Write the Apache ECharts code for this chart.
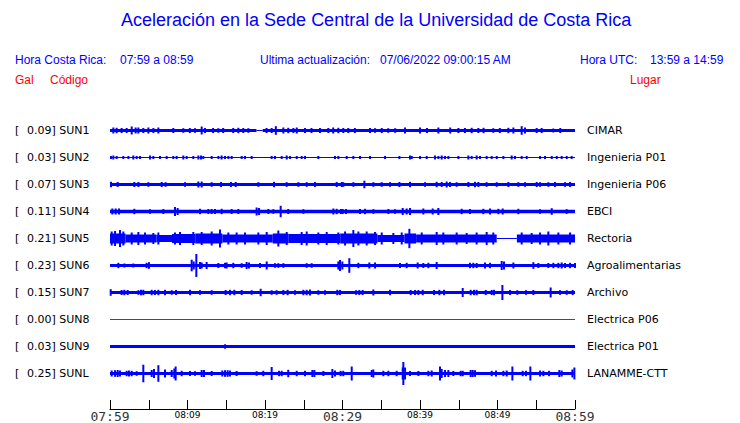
<!DOCTYPE html>
<html><head><meta charset="utf-8">
<script src="https://cdn.jsdelivr.net/npm/echarts@6.0.0/dist/echarts.min.js"></script>
<style>html,body{margin:0;padding:0;background:#fff}#c{width:740px;height:423px}</style>
</head><body><div id="c"></div>
<script>
// ---------- DATA ----------
const stations = ["SUN1","SUN2","SUN3","SUN4","SUN5","SUN6","SUN7","SUN8","SUN9","SUNL"];
const places = ["CIMAR","Ingenieria P01","Ingenieria P06","EBCI","Rectoria","Agroalimentarias","Archivo","Electrica P06","Electrica P01","LANAMME-CTT"];
const peaks = [0.09,0.03,0.07,0.11,0.21,0.23,0.15,0.00,0.03,0.25];
const tickLabels = ["07:59","08:09","08:19","08:29","08:39","08:49","08:59"];

// noise band per trace: [startMin, endMin, halfAmplitude (Gal)]
const sun1Noise = [[0,18.9,0.03],[18.9,19.7,0.01],[19.7,60,0.03]];
const sun2Noise = [[0,60,0.01]];
const sun3Noise = [[0,60,0.03]];
const sun4Noise = [[0,60,0.035]];
const sun5Noise = [[0,2,0.10],[2,6,0.08],[6,8,0.07],[8,11,0.09],[11,14.5,0.10],[14.5,21,0.08],[21,23,0.10],[23,29.7,0.09],[29.7,34.5,0.10],[34.5,38,0.07],[38,39.5,0.10],[39.5,49.9,0.08],[49.9,52.5,0.01],[52.5,60,0.08]];
const sun6Noise = [[0,60,0.03]];
const sun7Noise = [[0,60,0.03]];
const sun8Noise = [[0,60,0]];
const sun9Noise = [[0,60,0.03]];
const sunLNoise = [[0,60,0.03]];

// bursts per trace: [minute, halfAmplitude (Gal)]
const sun1Bursts = [[0.43,.06],[0.86,.054],[1.5,.05],[2.15,.05],[2.8,.08],[3.31,.06],[3.66,.06],[4.3,.05],[4.95,.06],[5.6,.05],[6.24,.06],[8.17,.05],[9.46,.046],[10.3,.05],[10.97,.046],[11.83,.08],[12.26,.05],[13.3,.05],[13.98,.046],[14.6,.05],[15.9,.05],[16.56,.054],[17.2,.05],[17.85,.046],[20.2,.05],[20.86,.05],[21.4,.086],[22.37,.06],[23.0,.054],[23.66,.05],[24.1,.06],[25.16,.05],[26.0,.05],[27.1,.05],[28.17,.05],[28.8,.06],[29.46,.054],[30.1,.05],[30.75,.05],[31.6,.05],[33.55,.05],[34.2,.046],[35.06,.05],[35.9,.046],[36.8,.046],[38.07,.06],[40.0,.06],[40.9,.05],[42.37,.06],[43.9,.06],[44.95,.05],[45.8,.05],[46.67,.054],[47.53,.05],[48.2,.054],[49.46,.046],[50.3,.05],[51.4,.054],[52.05,.06],[53.12,.086],[53.55,.06],[55.05,.05],[55.7,.05],[57.2,.04],[58.1,.05]];
const sun2Bursts = [[0.13,.03],[0.43,.04],[0.86,.03],[1.72,.03],[2.37,.03],[3.01,.04],[3.44,.03],[3.87,.03],[5.16,.04],[5.59,.03],[6.45,.03],[7.31,.03],[8.17,.03],[8.6,.03],[9.46,.04],[9.89,.03],[10.75,.03],[11.4,.04],[11.74,.04],[12.04,.03],[13.12,.03],[13.98,.03],[14.4,.04],[14.84,.03],[15.27,.03],[15.7,.03],[16.99,.03],[17.42,.03],[18.28,.03],[20.86,.03],[21.29,.03],[22.15,.03],[22.8,.04],[23.23,.03],[24.09,.03],[24.73,.03],[25.16,.03],[26.88,.03],[29.03,.03],[29.46,.03],[30.54,.03],[31.4,.03],[32.26,.03],[33.55,.03],[35.49,.03],[37.34,.03],[38.71,.04],[38.93,.03],[40.0,.03],[40.86,.03],[41.94,.04],[42.37,.03],[42.8,.04],[43.23,.03],[43.66,.03],[44.95,.03],[46.24,.04],[46.67,.03],[47.31,.04],[47.74,.03],[48.6,.03],[49.25,.03],[49.9,.03],[50.76,.03],[51.83,.04],[52.26,.03],[53.12,.03],[53.77,.03],[55.49,.03],[56.13,.03],[57.0,.03],[57.64,.03],[58.28,.03],[58.93,.03],[59.57,.03]];
const sun3Bursts = [[0.13,.054],[0.99,.05],[3.14,.05],[3.66,.05],[4.95,.046],[6.67,.05],[7.18,.046],[9.68,.046],[11.4,.06],[11.83,.06],[13.12,.046],[14.32,.05],[15.61,.05],[16.22,.05],[19.14,.046],[21.16,.054],[22.8,.046],[24.3,.046],[25.38,.046],[26.45,.05],[29.25,.05],[29.9,.05],[30.1,.046],[31.4,.046],[32.82,.076],[33.98,.046],[35.06,.046],[36.13,.046],[37.34,.05],[38.71,.054],[40.65,.046],[42.15,.054],[42.8,.05],[43.44,.06],[43.87,.05],[44.73,.046],[46.24,.05],[47.1,.054],[47.53,.05],[48.6,.046],[49.9,.046],[51.4,.05],[52.69,.046],[53.55,.046],[55.06,.05],[55.49,.046],[56.56,.046],[57.42,.05],[58.71,.046],[59.36,.05]];
const sun4Bursts = [[0.3,.06],[0.73,.06],[1.16,.06],[3.14,.054],[5.16,.046],[6.88,.05],[8.39,.09],[8.73,.07],[11.61,.054],[12.69,.05],[13.12,.05],[13.55,.05],[14.41,.054],[15.7,.05],[16.56,.05],[18.92,.08],[19.23,.07],[20.43,.05],[21.08,.046],[22.02,.114],[23.0,.05],[24.95,.046],[28.82,.06],[29.25,.054],[29.8,.05],[30.02,.05],[30.45,.05],[32.26,.05],[32.91,.054],[33.98,.046],[35.92,.05],[36.78,.046],[37.77,.07],[38.28,.06],[38.71,.07],[40.43,.06],[41.64,.06],[42.37,.07],[45.38,.054],[46.45,.05],[48.17,.054],[49.04,.06],[50.11,.054],[50.67,.06],[52.69,.054],[55.49,.046],[57.0,.066],[58.93,.046]];
const sun5Bursts = [[0.22,.14],[0.65,.15],[1.29,.17],[1.72,.14],[2.8,.12],[3.66,.13],[4.52,.12],[5.59,.11],[6.24,.12],[8.39,.12],[9.03,.13],[10.75,.13],[11.83,.13],[13.12,.14],[14.19,.18],[15.27,.12],[16.34,.12],[17.42,.12],[19.14,.12],[20.22,.13],[21.72,.16],[22.8,.13],[24.73,.13],[25.38,.14],[26.88,.12],[27.96,.13],[29.46,.12],[30.33,.14],[31.4,.17],[32.05,.14],[33.12,.14],[34.2,.13],[35.06,.12],[36.56,.11],[37.64,.12],[38.63,.194],[40.22,.12],[42.15,.13],[43.01,.12],[44.73,.12],[46.02,.11],[47.31,.12],[48.6,.13],[49.46,.12],[53.12,.12],[54.41,.11],[55.49,.12],[56.56,.14],[57.85,.12],[59.36,.12]];
const sun6Bursts = [[1.08,.054],[1.85,.04],[3.01,.04],[4.73,.054],[5.03,.066],[10.54,.116],[10.8,.08],[11.14,.23],[11.61,.07],[11.83,.06],[12.47,.07],[13.98,.05],[14.84,.054],[15.05,.06],[15.91,.054],[16.99,.046],[17.63,.07],[17.94,.06],[19.35,.05],[20.22,.08],[21.29,.046],[21.72,.046],[22.37,.046],[25.38,.046],[26.02,.046],[29.46,.08],[29.68,.11],[29.98,.08],[30.88,.146],[32.05,.054],[33.46,.06],[34.2,.06],[37.42,.05],[38.28,.054],[39.7,.06],[40.43,.05],[41.08,.054],[42.15,.07],[46.45,.054],[46.88,.054],[47.31,.05],[48.39,.06],[49.04,.054],[50.54,.09],[50.84,.08],[52.05,.06],[54.63,.066],[55.27,.05],[56.56,.05],[57.21,.054],[57.85,.054],[58.28,.06],[58.71,.05],[59.36,.054],[60.0,.05]];
const sun7Bursts = [[0.09,.066],[1.5,.05],[1.85,.054],[2.28,.05],[3.66,.046],[4.0,.054],[4.3,.054],[5.38,.054],[5.8,.05],[6.24,.054],[7.1,.054],[7.96,.046],[8.52,.05],[10.32,.054],[11.61,.046],[13.12,.046],[14.92,.05],[15.48,.054],[16.04,.054],[16.99,.05],[18.28,.046],[19.44,.074],[20.86,.046],[21.5,.046],[22.37,.05],[22.92,.054],[23.87,.046],[24.95,.054],[25.38,.054],[25.8,.06],[26.88,.046],[27.74,.046],[29.33,.054],[29.68,.05],[31.74,.046],[32.17,.05],[32.6,.05],[33.98,.06],[36.13,.054],[38.8,.05],[39.36,.05],[39.79,.05],[40.35,.054],[41.81,.05],[42.5,.054],[43.1,.054],[45.51,.09],[46.54,.054],[46.97,.054],[47.31,.054],[48.48,.05],[49.25,.05],[49.55,.054],[50.63,.15],[51.62,.05],[52.56,.046],[53.68,.046],[54.63,.05],[56.86,.10],[58.07,.046],[58.93,.046],[59.7,.05]];
const sun8Bursts = [];
const sun9Bursts = [[14.84,.044]];
const sunLBursts = [[0.22,.06],[0.65,.066],[0.99,.07],[1.29,.06],[2.15,.054],[2.45,.06],[2.8,.054],[3.44,.046],[4.3,.176],[5.38,.07],[5.68,.09],[6.24,.166],[7.1,.08],[7.96,.07],[8.3,.10],[8.47,.14],[9.25,.054],[10.32,.05],[10.97,.046],[11.83,.07],[12.13,.07],[13.12,.05],[14.49,.06],[14.84,.066],[15.18,.066],[15.48,.06],[16.34,.05],[18.92,.046],[19.78,.054],[20.86,.13],[21.81,.054],[22.15,.054],[23.0,.074],[24.09,.054],[25.16,.054],[26.11,.07],[26.37,.07],[27.53,.05],[28.69,.09],[29.03,.06],[29.76,.054],[30.1,.054],[31.19,.14],[33.77,.07],[33.98,.08],[35.27,.054],[35.92,.054],[36.99,.054],[37.77,.12],[37.85,.23],[38.07,.12],[38.71,.05],[39.79,.05],[41.08,.054],[41.51,.06],[42.58,.14],[42.8,.09],[43.23,.07],[43.66,.07],[44.3,.05],[45.25,.054],[45.51,.054],[46.54,.07],[46.8,.07],[47.1,.066],[49.25,.054],[49.81,.06],[50.76,.054],[51.19,.06],[51.92,.14],[53.25,.054],[53.68,.054],[54.24,.14],[55.49,.06],[55.92,.054],[56.65,.054],[57.98,.07],[58.28,.06],[59.66,.08],[59.92,.12]];

const noiseSets = [sun1Noise,sun2Noise,sun3Noise,sun4Noise,sun5Noise,sun6Noise,sun7Noise,sun8Noise,sun9Noise,sunLNoise];
const burstSets = [sun1Bursts,sun2Bursts,sun3Bursts,sun4Bursts,sun5Bursts,sun6Bursts,sun7Bursts,sun8Bursts,sun9Bursts,sunLBursts];

// ---------- CHART ----------
const BLUE = '#0000ff', RED = '#ff0000';
const chart = echarts.init(document.getElementById('c'), null, {renderer: 'svg', width: 740, height: 423});

const grids = [], xAxes = [], yAxes = [], series = [], graphics = [];
const ROW_TOP = 117, ROW_H = 27;

function makeRender(color) {
  return function (params, api) {
    const t0 = api.value(0), t1 = api.value(1), a = api.value(2);
    const p0 = api.coord([t0, a]);
    const p1 = api.coord([t1, -a]);
    let x = p0[0], w = p1[0] - p0[0];
    if (w < 2) { x = (p0[0] + p1[0]) / 2 - 1; w = 2; }
    let h = p1[1] - p0[1];
    let y = p0[1];
    if (h < 1) { y = (p0[1] + p1[1]) / 2 - 0.5; h = 1; }
    return {type: 'rect', shape: {x: x, y: y, width: w, height: h}, style: {fill: color}};
  };
}

stations.forEach(function (st, i) {
  const top = ROW_TOP + ROW_H * i;
  const cy = top + ROW_H / 2;
  grids.push({left: 110, width: 465, top: top, height: ROW_H, containLabel: false});
  xAxes.push({type: 'value', gridIndex: i, min: 0, max: 60, show: false});
  yAxes.push({type: 'value', gridIndex: i, min: -0.27, max: 0.27, show: false});
  const color = peaks[i] === 0 ? RED : BLUE;
  const data = noiseSets[i].concat(burstSets[i].map(function (b) { return [b[0], b[0], b[1]]; }));
  series.push({type: 'custom', xAxisIndex: i, yAxisIndex: i, silent: true, animation: false,
    renderItem: makeRender(color), data: data, clip: false});
  graphics.push({type: 'text', x: 15, y: cy, style: {text: '[', font: '11px "DejaVu Sans"', fill: '#000',
    textVerticalAlign: 'middle', verticalAlign: 'middle'}});
  graphics.push({type: 'text', x: 27, y: cy, style: {text: peaks[i].toFixed(2) + '] ' + st, font: '11px "DejaVu Sans"', fill: '#000',
    textVerticalAlign: 'middle', verticalAlign: 'middle'}});
  graphics.push({type: 'text', x: 587, y: cy, style: {text: places[i], font: '11px "DejaVu Sans"', fill: '#000',
    textVerticalAlign: 'middle', verticalAlign: 'middle'}});
});

// time axis grid
grids.push({left: 110, width: 465, top: 400, height: 9});
xAxes.push({type: 'value', gridIndex: 10, min: 0, max: 60, interval: 5, position: 'bottom',
  axisLine: {show: true, lineStyle: {color: '#000', width: 1}},
  axisTick: {show: true, inside: true, length: 9, lineStyle: {color: '#000', width: 1}},
  splitLine: {show: false},
  axisLabel: {show: true, margin: 1, showMinLabel: true, showMaxLabel: true, hideOverlap: false,
    formatter: function (v) {
      if (v % 10 !== 0) return '';
      const lab = tickLabels[v / 10];
      return (v % 30 === 0 ? '{b|' : '{s|') + lab + '}';
    },
    rich: {
      b: {fontFamily: 'DejaVu Sans Mono', fontSize: 13, fontWeight: 'normal', color: '#333'},
      s: {fontFamily: 'DejaVu Sans', fontSize: 9, fontWeight: 'normal', color: '#000'}
    }}
});
yAxes.push({type: 'value', gridIndex: 10, min: 0, max: 1, show: false});
series.push({type: 'line', xAxisIndex: 10, yAxisIndex: 10, data: [], silent: true});

// header texts
const hdrFont = '12px "Liberation Sans"';
function hdr(text, x, y, color) {
  graphics.push({type: 'text', x: x, y: y, style: {text: text, font: hdrFont, fill: color,
    textVerticalAlign: 'middle', verticalAlign: 'middle'}});
}
hdr('Hora Costa Rica:', 15, 60, BLUE);
hdr('07:59 a 08:59', 120, 60, BLUE);
hdr('Ultima actualización:', 260, 60, BLUE);
hdr('07/06/2022 09:00:15 AM', 380, 60, BLUE);
hdr('Hora UTC:', 580, 60, BLUE);
hdr('13:59 a 14:59', 650, 60, BLUE);
hdr('Gal', 15, 80, RED);
hdr('Código', 50, 80, RED);
hdr('Lugar', 630, 80, RED);

chart.setOption({
  animation: false,
  backgroundColor: '#fff',
  title: {text: 'Aceleración en la Sede Central de la Universidad de Costa Rica', left: 121, top: 11,
    padding: 0,
    textStyle: {fontFamily: 'Liberation Sans', fontSize: 18, fontWeight: 'normal', color: BLUE}},
  grid: grids, xAxis: xAxes, yAxis: yAxes, series: series, graphic: graphics
});
</script></body></html>
